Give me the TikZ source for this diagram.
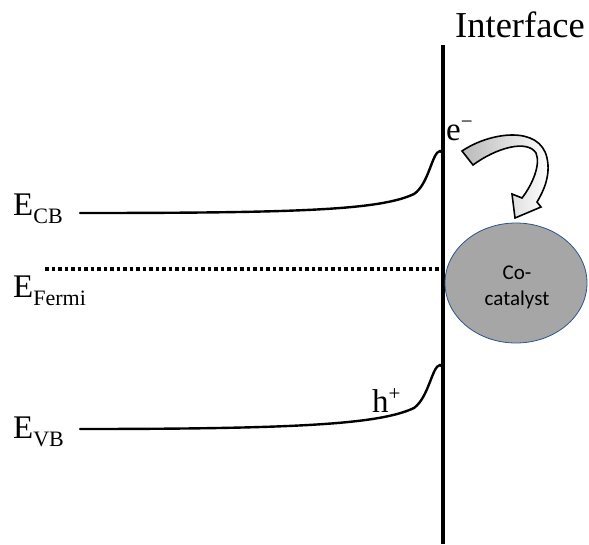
\documentclass[tikz,border=0pt]{standalone}
\usepackage{fontspec}
\usetikzlibrary{shapes.geometric}
\setmainfont{Liberation Serif}
\newfontfamily\calib{Carlito}
\begin{document}
\begin{tikzpicture}[x=1pt,y=-1pt,
  band/.style={line width=2.4pt, line cap=round},
  lbl/.style={inner sep=0pt, anchor=base west, font=\fontsize{33}{38}\selectfont},
  cattext/.style={inner sep=0pt, anchor=base, font=\calib\fontsize{21}{24}\selectfont}]
\useasboundingbox (0,0) rectangle (589,544);
% interface line
\coordinate (itop) at (443,45);
\coordinate (ibot) at (443,544);
\draw[line width=4pt] (itop) -- (ibot);
\node[lbl, font=\fontsize{36.5}{42}\selectfont] (iface) at (455,37) {Interface};
% Fermi level
\coordinate (fl) at (45,269);
\coordinate (fr) at (462,269);
\draw[line width=3.5pt, dash pattern=on 3.5pt off 3pt] (fl) -- (fr);
% co-catalyst
\node[draw={rgb,255:red,47;green,82;blue,143}, line width=0.8pt, fill={rgb,255:red,166;green,166;blue,166},
  ellipse, minimum width=142pt, minimum height=120pt, inner sep=0pt] (cat) at (516,283) {};
\node[cattext] (co) at (517,279) {Co-};
\node[cattext] (cat2) at (517,305) {catalyst};
% CB band
\coordinate (cb0) at (80,213);
\coordinate (cb1) at (443,153);
\draw[band] (cb0) .. controls (300,213) and (380,210) .. (414,194)
  .. controls (429,184) and (432,152) .. (440,151) -- (cb1);
% VB band
\coordinate (vb0) at (80,429);
\coordinate (vb1) at (443,367);
\draw[band] (vb0) .. controls (300,429) and (380,424) .. (414,408)
  .. controls (429,397) and (432,366) .. (440,365) -- (vb1);
% labels
\node[lbl] (ecb) at (13,215) {E\raisebox{-8pt}{\fontsize{22}{26}\selectfont CB}};
\node[lbl] (ef) at (13,297) {E\raisebox{-8pt}{\fontsize{22}{26}\selectfont Fermi}};
\node[lbl] (evb) at (13,438) {E\raisebox{-8pt}{\fontsize{22}{26}\selectfont VB}};
\node[lbl] (hp) at (372,412) {h\raisebox{12pt}{\fontsize{21}{24}\selectfont +}};
\node[lbl] (em) at (446,140) {e\raisebox{12pt}{\fontsize{21}{24}\selectfont −}};
% curved block arrow
\shade[left color=gray!55, middle color=gray!35, right color=white, draw=black, line width=1.6pt, line join=miter]
  (462,151) .. controls (490,132) and (540,125) .. (547,158)
  .. controls (551,176) and (543,192) .. (537,202)
  -- (541,207) -- (515,218) -- (512,194) -- (522,198)
  .. controls (532,185) and (541,165) .. (536,153)
  .. controls (527,139) and (496,148) .. (473,165) -- cycle;
\end{tikzpicture}
\end{document}
